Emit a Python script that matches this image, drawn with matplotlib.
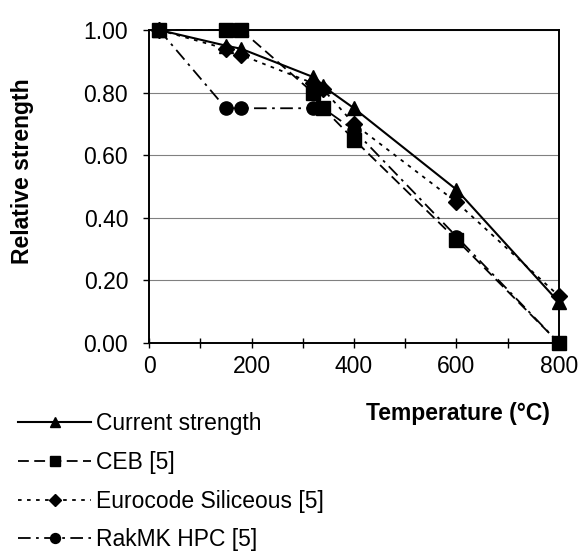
import matplotlib.pyplot as plt
from matplotlib.ticker import MultipleLocator

plt.rcParams['font.family'] = ['Liberation Sans', 'DejaVu Sans']

temperature = [20, 150, 180, 320, 340, 400, 600, 800]
current     = [1.00, 0.95, 0.94, 0.85, 0.82, 0.75, 0.49, 0.13]
ceb         = [1.00, 1.00, 1.00, 0.80, 0.75, 0.65, 0.33, 0.00]
eurocode    = [1.00, 0.94, 0.92, 0.83, 0.81, 0.70, 0.45, 0.15]
rakmk       = [1.00, 0.75, 0.75, 0.75, 0.75, 0.68, 0.34, 0.00]

fs = 16.5

fig = plt.figure(figsize=(5.81, 5.54), dpi=100)
ax = fig.add_axes([0.2565, 0.381, 0.7055, 0.5648])

ax.plot(temperature, current, linestyle='-', color='black', linewidth=1.5,
        marker='^', markersize=10, clip_on=False, label='Current strength')
ax.plot(temperature, ceb, linestyle=(0, (6, 3)), color='black', linewidth=1.3,
        marker='s', markersize=10, clip_on=False, label='CEB [5]')
ax.plot(temperature, eurocode, linestyle=(0, (2, 3)), color='black', linewidth=1.3,
        marker='D', markersize=8, clip_on=False, label='Eurocode Siliceous [5]')
ax.plot(temperature, rakmk, linestyle=(0, (7, 3, 1.5, 3)), color='black', linewidth=1.3,
        marker='o', markersize=9.5, clip_on=False, label='RakMK HPC [5]')

ax.set_xlim(0, 800)
ax.set_ylim(0, 1.0)
ax.xaxis.set_major_locator(MultipleLocator(200))
ax.xaxis.set_minor_locator(MultipleLocator(100))
ax.yaxis.set_major_locator(MultipleLocator(0.2))
ax.yaxis.set_major_formatter(plt.FuncFormatter(lambda v, p: f'{v:.2f}'))
ax.tick_params(axis='x', which='both', direction='inout', length=7, width=1, labelsize=fs, pad=5)
ax.tick_params(axis='y', direction='out', length=4, width=1, labelsize=fs, pad=11)
ax.grid(axis='y', color='gray', linewidth=0.8)
for side in ax.spines.values():
    side.set_linewidth(1.4)

# axis titles sit where the original layout puts them, not centred on the axes
fig.text(0.038, 0.691, 'Relative strength', fontweight='bold', fontsize=fs,
         rotation=90, ha='center', va='center')
fig.text(0.788, 0.253, 'Temperature (°C)', fontweight='bold', fontsize=fs,
         ha='center', va='center')

fig.legend(loc='upper left', bbox_to_anchor=(0.015, 0.272), frameon=False,
           fontsize=fs, handlelength=3.2, handletextpad=0.2, labelspacing=0.68,
           markerscale=0.75, borderaxespad=0)

plt.savefig('out.png', dpi=100)
plt.close()
